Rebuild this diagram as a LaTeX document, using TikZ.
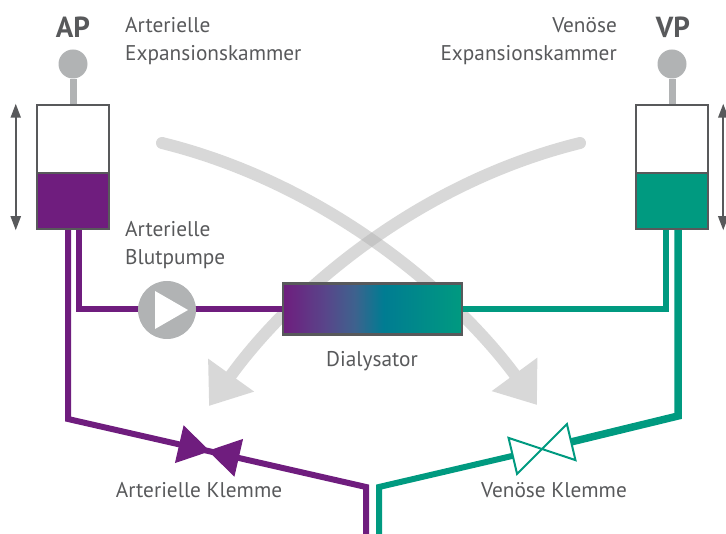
\documentclass[tikz,border=0pt]{standalone}
\usepackage{fontspec}
\setmainfont{PT Sans}
\usetikzlibrary{arrows.meta,calc}
\definecolor{lila}{RGB}{111,29,126}
\definecolor{gruen}{RGB}{0,154,128}
\definecolor{rahmen}{RGB}{88,89,91}
\definecolor{textgrau}{RGB}{88,89,91}
\definecolor{sensorgrau}{RGB}{177,179,180}
\definecolor{dmitteA}{RGB}{88,70,138}
\definecolor{dmitteB}{RGB}{62,98,142}
\definecolor{dtuerkis}{RGB}{0,124,146}
\pgfdeclarehorizontalshading{dialyse}{100bp}{color(0bp)=(lila); color(25bp)=(lila); color(37bp)=(dmitteA); color(45bp)=(dmitteB); color(53bp)=(dtuerkis); color(75bp)=(gruen); color(100bp)=(gruen)}
\pgfdeclarelayer{pfeile}
\pgfdeclarelayer{schlaeuche}
\pgfsetlayers{pfeile,schlaeuche,main}
\begin{document}
\begin{tikzpicture}[x=1pt,y=-1pt,
  schrift/.style={text=textgrau,font=\fontsize{21.3}{28}\selectfont,inner sep=0pt},
  kuerzel/.style={text=textgrau,font=\fontsize{29}{30}\selectfont\bfseries,inner sep=0pt},
  kammer/.style={draw=rahmen,line width=2.5pt,minimum width=72pt,minimum height=124pt,inner sep=0pt,
    path picture={\fill[#1] ([yshift=-6pt]path picture bounding box.west) rectangle (path picture bounding box.south east);
      \draw[rahmen,line width=2.5pt] ([yshift=-6pt]path picture bounding box.west) -- ([yshift=-6pt]path picture bounding box.east);}},
  sensor/.style={circle,fill=sensorgrau,minimum size=29pt,inner sep=0pt},
  pumpenkreis/.style={circle,fill=sensorgrau,minimum size=58pt,inner sep=0pt},
  stiel/.style={draw=sensorgrau,line width=7pt},
  hub/.style={draw=rahmen,line width=2pt,{Triangle[length=14pt,width=10pt]}-{Triangle[length=14pt,width=10pt]}},
  schlauch/.style={draw=#1,line width=6pt},
  bogen/.style={draw=black!30,line width=12pt,line cap=round,-{Triangle[length=38pt,width=54pt]}},
  klemme/.pic={\path[pic actions] (0,0) -- (-30,-18.5) -- (-30,18.5) -- cycle (0,0) -- (30,-18.5) -- (30,18.5) -- cycle;}]
\useasboundingbox (0,0) rectangle (726,534);
\node[kammer=lila] (apk) at (73,167) {};
\node[kammer=gruen] (vpk) at (672,167) {};
\node[sensor] (apsensor) at (73,64) {};
\node[sensor] (vpsensor) at (672,64) {};
\draw[stiel] (apsensor) -- (apk);
\draw[stiel] (vpsensor) -- (vpk);
\draw[hub] ([xshift=-20pt]apk.north west) -- ([xshift=-20pt]apk.south west);
\draw[hub] ([xshift=14pt]vpk.north east) -- ([xshift=14pt]vpk.south east);
\node[pumpenkreis] (pumpe) at (167,310) {};
\fill[white] ([shift={(-12,-19)}]pumpe.center) -- ([shift={(-12,19)}]pumpe.center) -- ([shift={(21,0)}]pumpe.center) -- cycle;
\node[draw=rahmen,line width=2.5pt,shading=dialyse,minimum width=179pt,minimum height=51pt,inner sep=0pt] (dialysator) at (372.5,309) {};
\coordinate (aecke) at (68,419);
\coordinate (aknoten) at (366,487);
\coordinate (aende) at (366,534);
\coordinate (vecke) at (678,416);
\coordinate (vknoten) at (379,487);
\coordinate (vende) at (379,534);
\coordinate (akl) at (209,451);
\coordinate (vkl) at (542,449);
\begin{pgfonlayer}{pfeile}
\begin{scope}[transparency group,opacity=.5]
\draw[bogen] (162,143) .. controls (332,185) and (460,300) .. (537,405);
\end{scope}
\begin{scope}[transparency group,opacity=.5]
\draw[bogen] (580,143) .. controls (410,185) and (285,300) .. (209,406);
\end{scope}
\end{pgfonlayer}
\begin{pgfonlayer}{schlaeuche}
\draw[schlauch=lila] ([xshift=-5pt]apk.south) -- (aecke) -- (aknoten) -- (aende);
\draw[schlauch=lila] ([xshift=6pt]apk.south) |- (dialysator.west);
\draw[schlauch=gruen] ([xshift=-6pt]vpk.south) |- (dialysator.east);
\draw[schlauch=gruen,line width=7.5pt] ([xshift=6pt]vpk.south) -- (vecke) -- ($(vkl)!30pt!(vecke)$);
\draw[schlauch=gruen] ($(vkl)!30pt!(vknoten)$) -- (vknoten) -- (vende);
\end{pgfonlayer}
\pic[rotate=-12.9,draw=lila,fill=lila,line width=1pt] at (akl) {klemme};
\pic[rotate=13.3,draw=gruen,fill=white,line width=2pt] at (vkl) {klemme};
\node[kuerzel,anchor=base] (aplabel) at (73,38) {AP};
\node[kuerzel,anchor=base] (vplabel) at (673,38) {VP};
\node[schrift,anchor=north west,align=left] (apname) at (125,17) {Arterielle\\Expansionskammer};
\node[schrift,anchor=north east,align=right] (vpname) at (617,17) {Venöse\\Expansionskammer};
\node[schrift,anchor=north west,align=left] (pumpname) at (125,221) {Arterielle\\Blutpumpe};
\node[schrift,anchor=base] (dialname) at (372,367) {Dialysator};
\node[schrift,anchor=base] (aklname) at (199,498) {Arterielle Klemme};
\node[schrift,anchor=base] (vklname) at (554,498) {Venöse Klemme};
\end{tikzpicture}
\end{document}
